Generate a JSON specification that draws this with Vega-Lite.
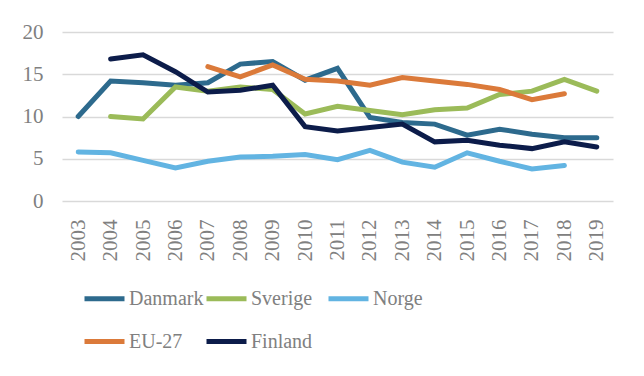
{
  "$schema": "https://vega.github.io/schema/vega-lite/v6.json",
  "autosize": "none",
  "width": 551,
  "height": 169,
  "padding": {"left": 62, "top": 32, "right": 31, "bottom": 175},
  "background": "white",
  "config": {
    "view": {"stroke": null},
    "font": "Liberation Serif",
    "axis": {"labelFont": "Liberation Serif", "labelColor": "#808080", "domain": false, "ticks": false, "title": null, "gridColor": "#d9d9d9", "gridWidth": 1.5}
  },
  "data": {"values": [
    {"Land": "Danmark", "År": "2003", "Verdi": 10.0},
    {"Land": "Danmark", "År": "2004", "Verdi": 14.2},
    {"Land": "Danmark", "År": "2005", "Verdi": 14.0},
    {"Land": "Danmark", "År": "2006", "Verdi": 13.7},
    {"Land": "Danmark", "År": "2007", "Verdi": 14.0},
    {"Land": "Danmark", "År": "2008", "Verdi": 16.2},
    {"Land": "Danmark", "År": "2009", "Verdi": 16.5},
    {"Land": "Danmark", "År": "2010", "Verdi": 14.3},
    {"Land": "Danmark", "År": "2011", "Verdi": 15.7},
    {"Land": "Danmark", "År": "2012", "Verdi": 9.9},
    {"Land": "Danmark", "År": "2013", "Verdi": 9.3},
    {"Land": "Danmark", "År": "2014", "Verdi": 9.1},
    {"Land": "Danmark", "År": "2015", "Verdi": 7.8},
    {"Land": "Danmark", "År": "2016", "Verdi": 8.5},
    {"Land": "Danmark", "År": "2017", "Verdi": 7.9},
    {"Land": "Danmark", "År": "2018", "Verdi": 7.5},
    {"Land": "Danmark", "År": "2019", "Verdi": 7.5},
    {"Land": "Sverige", "År": "2004", "Verdi": 10.0},
    {"Land": "Sverige", "År": "2005", "Verdi": 9.7},
    {"Land": "Sverige", "År": "2006", "Verdi": 13.5},
    {"Land": "Sverige", "År": "2007", "Verdi": 13.0},
    {"Land": "Sverige", "År": "2008", "Verdi": 13.5},
    {"Land": "Sverige", "År": "2009", "Verdi": 13.2},
    {"Land": "Sverige", "År": "2010", "Verdi": 10.3},
    {"Land": "Sverige", "År": "2011", "Verdi": 11.2},
    {"Land": "Sverige", "År": "2012", "Verdi": 10.7},
    {"Land": "Sverige", "År": "2013", "Verdi": 10.2},
    {"Land": "Sverige", "År": "2014", "Verdi": 10.8},
    {"Land": "Sverige", "År": "2015", "Verdi": 11.0},
    {"Land": "Sverige", "År": "2016", "Verdi": 12.6},
    {"Land": "Sverige", "År": "2017", "Verdi": 13.0},
    {"Land": "Sverige", "År": "2018", "Verdi": 14.4},
    {"Land": "Sverige", "År": "2019", "Verdi": 13.0},
    {"Land": "Norge", "År": "2003", "Verdi": 5.8},
    {"Land": "Norge", "År": "2004", "Verdi": 5.7},
    {"Land": "Norge", "År": "2005", "Verdi": 4.8},
    {"Land": "Norge", "År": "2006", "Verdi": 3.9},
    {"Land": "Norge", "År": "2007", "Verdi": 4.7},
    {"Land": "Norge", "År": "2008", "Verdi": 5.2},
    {"Land": "Norge", "År": "2009", "Verdi": 5.3},
    {"Land": "Norge", "År": "2010", "Verdi": 5.5},
    {"Land": "Norge", "År": "2011", "Verdi": 4.9},
    {"Land": "Norge", "År": "2012", "Verdi": 6.0},
    {"Land": "Norge", "År": "2013", "Verdi": 4.6},
    {"Land": "Norge", "År": "2014", "Verdi": 4.0},
    {"Land": "Norge", "År": "2015", "Verdi": 5.7},
    {"Land": "Norge", "År": "2016", "Verdi": 4.7},
    {"Land": "Norge", "År": "2017", "Verdi": 3.8},
    {"Land": "Norge", "År": "2018", "Verdi": 4.2},
    {"Land": "EU-27", "År": "2007", "Verdi": 15.9},
    {"Land": "EU-27", "År": "2008", "Verdi": 14.7},
    {"Land": "EU-27", "År": "2009", "Verdi": 16.1},
    {"Land": "EU-27", "År": "2010", "Verdi": 14.4},
    {"Land": "EU-27", "År": "2011", "Verdi": 14.2},
    {"Land": "EU-27", "År": "2012", "Verdi": 13.7},
    {"Land": "EU-27", "År": "2013", "Verdi": 14.6},
    {"Land": "EU-27", "År": "2014", "Verdi": 14.2},
    {"Land": "EU-27", "År": "2015", "Verdi": 13.8},
    {"Land": "EU-27", "År": "2016", "Verdi": 13.2},
    {"Land": "EU-27", "År": "2017", "Verdi": 12.0},
    {"Land": "EU-27", "År": "2018", "Verdi": 12.7},
    {"Land": "Finland", "År": "2004", "Verdi": 16.8},
    {"Land": "Finland", "År": "2005", "Verdi": 17.3},
    {"Land": "Finland", "År": "2006", "Verdi": 15.3},
    {"Land": "Finland", "År": "2007", "Verdi": 12.9},
    {"Land": "Finland", "År": "2008", "Verdi": 13.1},
    {"Land": "Finland", "År": "2009", "Verdi": 13.7},
    {"Land": "Finland", "År": "2010", "Verdi": 8.8},
    {"Land": "Finland", "År": "2011", "Verdi": 8.3},
    {"Land": "Finland", "År": "2012", "Verdi": 8.7},
    {"Land": "Finland", "År": "2013", "Verdi": 9.1},
    {"Land": "Finland", "År": "2014", "Verdi": 7.0},
    {"Land": "Finland", "År": "2015", "Verdi": 7.2},
    {"Land": "Finland", "År": "2016", "Verdi": 6.6},
    {"Land": "Finland", "År": "2017", "Verdi": 6.2},
    {"Land": "Finland", "År": "2018", "Verdi": 7.0},
    {"Land": "Finland", "År": "2019", "Verdi": 6.4}
  ]},
  "mark": {"type": "line", "strokeWidth": 5, "strokeCap": "round", "strokeJoin": "miter"},
  "encoding": {
    "x": {"field": "År", "type": "ordinal", "scale": {"type": "point", "padding": 0.5},
      "axis": {"labelAngle": -90, "labelAlign": "right", "labelBaseline": "middle", "labelPadding": 18, "labelFontSize": 21, "grid": false}},
    "y": {"field": "Verdi", "type": "quantitative", "scale": {"domain": [0, 20]},
      "axis": {"values": [0, 5, 10, 15, 20], "labelPadding": 19, "labelFontSize": 21, "grid": true}},
    "color": {"field": "Land", "type": "nominal",
      "scale": {"domain": ["Danmark", "Sverige", "Norge", "EU-27", "Finland"], "range": ["#2D6A8D", "#9BBB59", "#62B4E2", "#DB7A3A", "#0C1C4A"]},
      "legend": {"title": null, "orient": "none", "legendX": 20, "legendY": 244, "direction": "horizontal", "columns": 3, "gridAlign": "all", "columnPadding": -10, "rowPadding": 10, "symbolType": "stroke", "symbolSize": 1600, "symbolStrokeWidth": 5, "labelOffset": 2, "labelFont": "Liberation Serif", "labelFontSize": 20, "labelColor": "#808080"}
    },
    "order": {"field": "År"}
  }
}
